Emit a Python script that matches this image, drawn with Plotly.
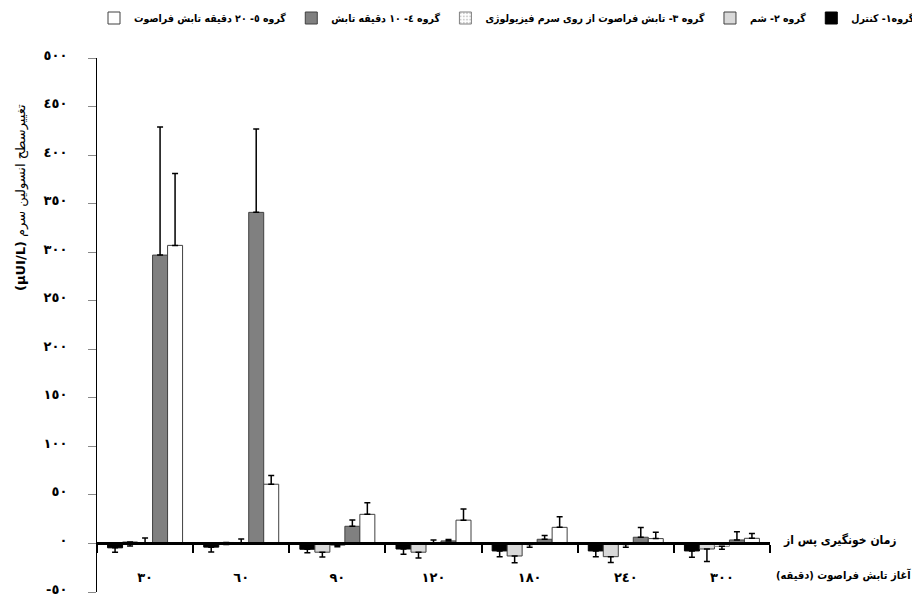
import plotly.graph_objects as go

RLM = "\u200f"

categories = ["٣٠", "٦٠", "٩٠", "١٢٠", "١٨٠", "٢٤٠", "٣٠٠"]

series_names = [
    "گروه١- کنترل",
    "گروه ٢- شم",
    "گروه ٣- تابش فراصوت از روی سرم فیزیولوژی",
    "گروه ٤- ١٠ دقیقه تابش",
    "گروه ٥- ٢٠ دقیقه تابش فراصوت",
]

g1_values = [-4.5, -3.8, -6.0, -5.7, -7.7, -7.7, -7.7]
g2_values = [1.5, 1.0, -9.0, -9.0, -12.9, -13.6, -5.7]
g3_values = [0.5, 0.5, -2.0, 0.5, -1.0, -1.0, -3.0]
g4_values = [297, 341, 17.7, 2.6, 4.3, 6.4, 3.6]
g5_values = [307, 61, 30, 24, 16.6, 5.0, 5.3]

# signed error: positive = drawn upward, negative = drawn downward
g1_err = [-4.5, -5.0, -3.5, -5.3, -6.0, -6.0, -6.5]
g2_err = [-4.0, -2.0, -5.0, -6.0, -7.0, -6.0, -13.0]
g3_err = [5.0, 4.0, -1.5, 3.0, -3.0, -3.0, -3.0]
g4_err = [132, 86, 6.5, 1.5, 4.0, 10.0, 8.5]
g5_err = [74, 9, 12, 11.5, 11.0, 6.5, 5.0]

y_tick_values = [-50, 0, 50, 100, 150, 200, 250, 300, 350, 400, 450, 500]
y_tick_labels = ["-٥٠", "٠", "٥٠", "١٠٠", "١٥٠", "٢٠٠", "٢٥٠", "٣٠٠", "٣٥٠", "٤٠٠", "٤٥٠", "٥٠٠"]

y_title_unit = "(µUI/L)"
y_title_text = "تغییرسطح انسولین سرم"
x_title_line1 = "زمان خونگیری پس از"
x_title_line2 = "آغاز تابش فراصوت (دقیقه)"

values = [g1_values, g2_values, g3_values, g4_values, g5_values]
errors = [g1_err, g2_err, g3_err, g4_err, g5_err]
fills = ["#000000", "#d9d9d9", "#ffffff", "#808080", "#ffffff"]
outlines = ["#000000", "#404040", "#808080", "#404040", "#404040"]
patterns = [None, None, ".", None, None]

FONT = "DejaVu Sans"
FONT_C = "DejaVu Sans Condensed, DejaVu Sans"

# plot area geometry (figure pixels)
L, T, PW, PH = 89, 50, 673, 534
W, H = 920, 595


def px_x(x):
    return (x - 8 - L) / PW


def px_y(y):
    return (T + PH - (y - 8)) / PH


fig = go.Figure()
for name, vals, errs, fc, lc, pat in zip(series_names, values, errors, fills, outlines, patterns):
    marker = dict(color=fc, line=dict(color=lc, width=1))
    if pat:
        marker["pattern"] = dict(shape=pat, fgcolor="#999999", bgcolor="#ffffff", size=4, solidity=0.3)
    fig.add_trace(go.Bar(
        x=categories,
        y=vals,
        name=RLM + name + RLM,
        marker=marker,
        error_y=dict(
            type="data",
            symmetric=False,
            array=[max(e, 0) for e in errs],
            arrayminus=[max(-e, 0) for e in errs],
            color="#000000",
            thickness=1.5,
            width=3,
        ),
    ))

fig.update_layout(
    width=W,
    height=H,
    margin=dict(l=L, r=W - L - PW, t=T, b=H - T - PH, autoexpand=False),
    paper_bgcolor="#ffffff",
    plot_bgcolor="#ffffff",
    barmode="group",
    bargap=0.22,
    bargroupgap=0,
    font=dict(family=FONT, color="#000000"),
    showlegend=True,
    legend=dict(
        orientation="h",
        traceorder="reversed",
        x=px_x(920),
        xanchor="right",
        y=px_y(18),
        yanchor="middle",
        font=dict(family=FONT_C, size=10.5, weight="bold"),
        itemwidth=30,
        bgcolor="rgba(0,0,0,0)",
    ),
    xaxis=dict(
        type="category",
        anchor="free",
        position=50 / 550,
        showline=True,
        linewidth=3,
        linecolor="#000000",
        ticks="outside",
        tickson="boundaries",
        ticklen=8,
        tickwidth=2,
        tickcolor="#000000",
        ticklabelstandoff=21,
        tickfont=dict(family=FONT, size=13, weight="bold"),
        showgrid=False,
        zeroline=False,
    ),
    yaxis=dict(
        range=[-50, 500],
        tickvals=y_tick_values,
        ticktext=y_tick_labels,
        showline=True,
        linewidth=1,
        linecolor="#000000",
        ticks="outside",
        ticklen=8,
        tickwidth=1,
        tickcolor="#888888",
        ticklabelstandoff=18,
        ticklabelshift=-3,
        ticklabeloverflow="allow",
        tickfont=dict(family=FONT, size=13, weight="bold"),
        showgrid=False,
        zeroline=False,
    ),
)

fig.add_annotation(
    text="<b>" + y_title_unit + "</b> " + RLM + y_title_text + RLM,
    xref="paper", yref="paper",
    x=px_x(21), y=px_y(198),
    xanchor="center", yanchor="middle",
    textangle=-90,
    showarrow=False,
    font=dict(family=FONT, size=13),
)
fig.add_annotation(
    text="<b>" + RLM + x_title_line1 + RLM + "</b>",
    xref="paper", yref="paper",
    x=px_x(840), y=px_y(540),
    xanchor="center", yanchor="middle",
    showarrow=False,
    font=dict(family=FONT_C, size=12),
)
fig.add_annotation(
    text="<b>" + RLM + x_title_line2 + RLM + "</b>",
    xref="paper", yref="paper",
    x=px_x(843), y=px_y(575),
    xanchor="center", yanchor="middle",
    showarrow=False,
    font=dict(family=FONT_C, size=11),
)

fig.write_html("out.html")
